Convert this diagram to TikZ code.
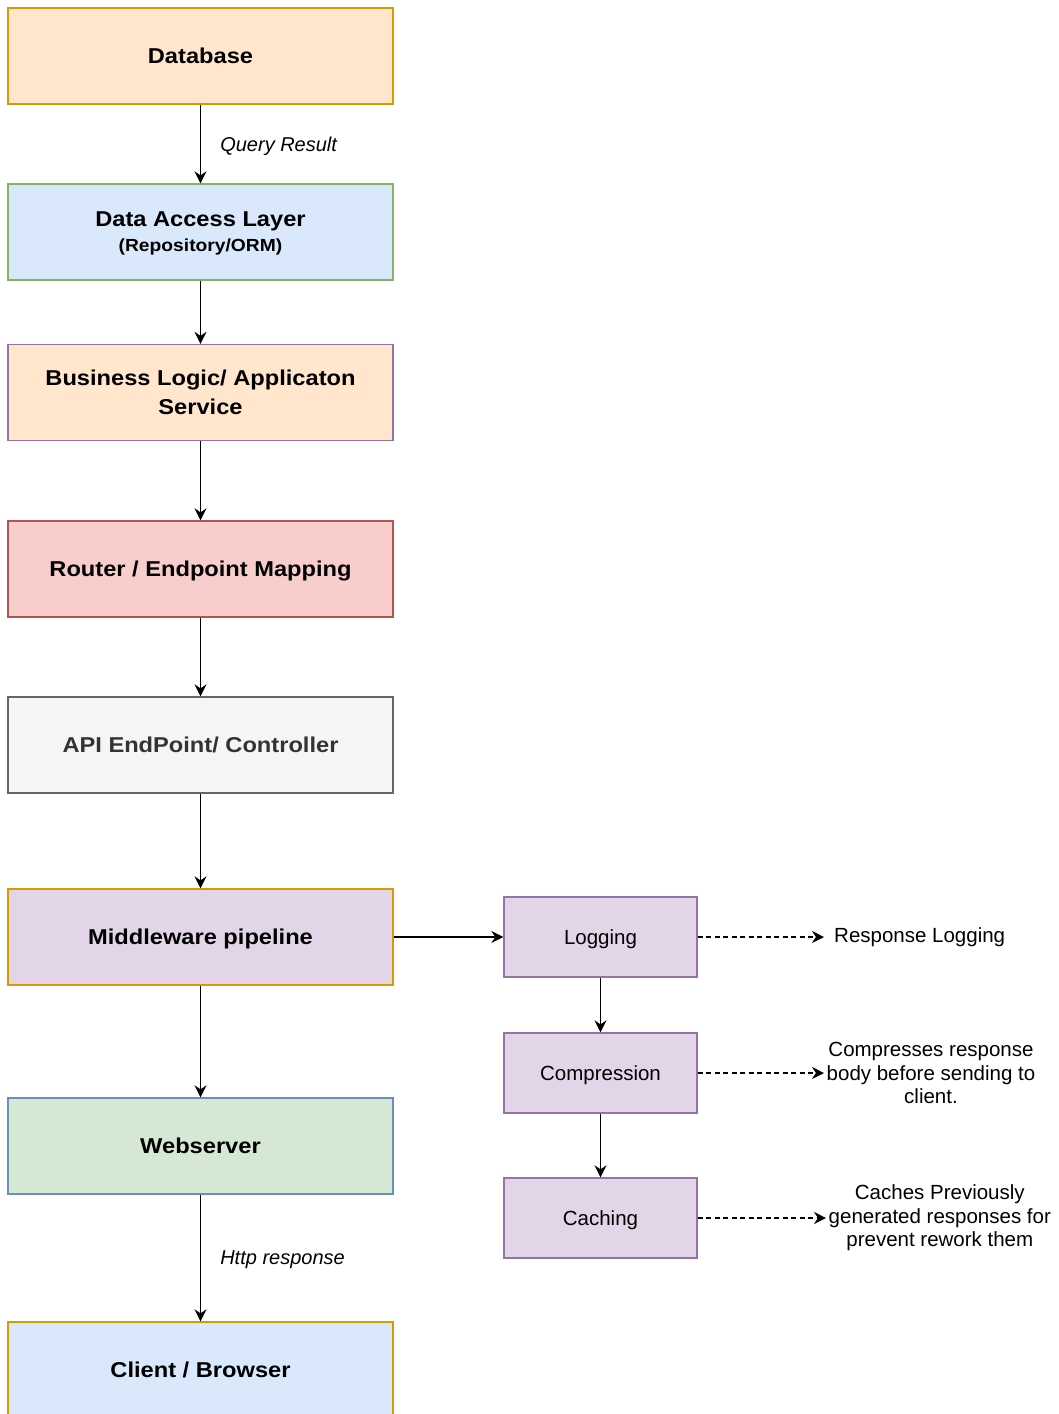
\documentclass[tikz,border=0pt]{standalone}
\usepackage{fontspec}
\setmainfont{Liberation Sans}
\newfontfamily\headfont[FakeStretch=1.1]{Liberation Sans Bold}
\usetikzlibrary{arrows.meta}

\definecolor{orangefill}{HTML}{FFE6CC}
\definecolor{orangeline}{HTML}{D79B00}
\definecolor{bluefill}{HTML}{DAE8FC}
\definecolor{blueline}{HTML}{6C8EBF}
\definecolor{greenfill}{HTML}{D5E8D4}
\definecolor{greenline}{HTML}{82B366}
\definecolor{purplefill}{HTML}{E1D5E7}
\definecolor{purpleline}{HTML}{9673A6}
\definecolor{redfill}{HTML}{F8CECC}
\definecolor{redline}{HTML}{B85450}
\definecolor{greyfill}{HTML}{F5F5F5}
\definecolor{greyline}{HTML}{666666}
\definecolor{greytext}{HTML}{333333}

\begin{document}
\begin{tikzpicture}[x=1pt,y=-1pt,
  layer/.style={rectangle, draw, line width=1.3pt, minimum width=385pt,
    minimum height=96pt, inner sep=0pt, align=center, text depth=-3pt,
    font=\headfont\fontsize{21.5}{29}\selectfont},
  stage/.style={rectangle, draw=purpleline, fill=purplefill, line width=1.3pt,
    minimum width=193pt, minimum height=80pt, inner sep=0pt, text depth=0pt,
    font=\fontsize{20.5}{24}\selectfont},
  note/.style={font=\fontsize{20.5}{23.5}\selectfont, align=center,
    inner ysep=1pt, anchor=west},
  edgelabel/.style={font=\itshape\fontsize{20}{24}\selectfont, anchor=west,
    inner sep=0pt, text depth=0pt},
  flow/.style={-{Stealth[length=12pt,width=12pt,inset=4pt]}, line width=1.6pt},
  aside/.style={flow, dash pattern=on 5pt off 3.5pt}
]
\useasboundingbox (0,0) rectangle (1058,1414);
\clip (0,0) rectangle (1058,1414);

% request/response layers
\node[layer, fill=orangefill, draw=orangeline] (db) at (200.5,56) {Database};
\node[layer, fill=bluefill, draw=greenline] (dal) at (200.5,232)
  {Data Access Layer\\[-4pt]{\fontsize{17.5}{20}\selectfont (Repository/ORM)}};
\node[layer, fill=orangefill, draw=purpleline] (bl) at (200.5,392.5)
  {Business Logic/ Applicaton\\Service};
\node[layer, fill=redfill, draw=redline] (router) at (200.5,569)
  {Router / Endpoint Mapping};
\node[layer, fill=greyfill, draw=greyline, text=greytext] (api) at (200.5,745)
  {API EndPoint/ Controller};
\node[layer, fill=purplefill, draw=orangeline] (mw) at (200.5,937)
  {Middleware pipeline};
\node[layer, fill=greenfill, draw=blueline] (web) at (200.5,1146)
  {Webserver};
\node[layer, fill=bluefill, draw=orangeline] (client) at (200.5,1370)
  {Client / Browser};

% middleware stages
\node[stage] (log) at (600.5,937) {Logging};
\node[stage] (comp) at (600.5,1073) {Compression};
\node[stage] (cache) at (600.5,1218) {Caching};

% stage descriptions
\node[note, inner xsep=10pt] (logn) at (824,937) {Response Logging};
\node[note, inner xsep=2.5pt] (compn) at (824,1073)
  {Compresses response\\body before sending to\\client.};
\node[note, inner xsep=2.5pt] (cachen) at (826,1218)
  {Caches Previously\\generated responses for\\prevent rework them};

% main flow
\draw[flow] (db) -- node[edgelabel, midway, xshift=19pt] {Query Result} (dal);
\draw[flow] (dal) -- (bl);
\draw[flow] (bl) -- (router);
\draw[flow] (router) -- (api);
\draw[flow] (api) -- (mw);
\draw[flow] (mw) -- (web);
\draw[flow] (web) -- node[edgelabel, midway, xshift=19pt] {Http response} (client);

% middleware pipeline
\draw[flow] (mw) -- (log);
\draw[flow] (log) -- (comp);
\draw[flow] (comp) -- (cache);

\draw[aside] (log) -- (logn.west);
\draw[aside] (comp) -- (compn.west);
\draw[aside] (cache) -- (cachen.west);
\end{tikzpicture}
\end{document}
